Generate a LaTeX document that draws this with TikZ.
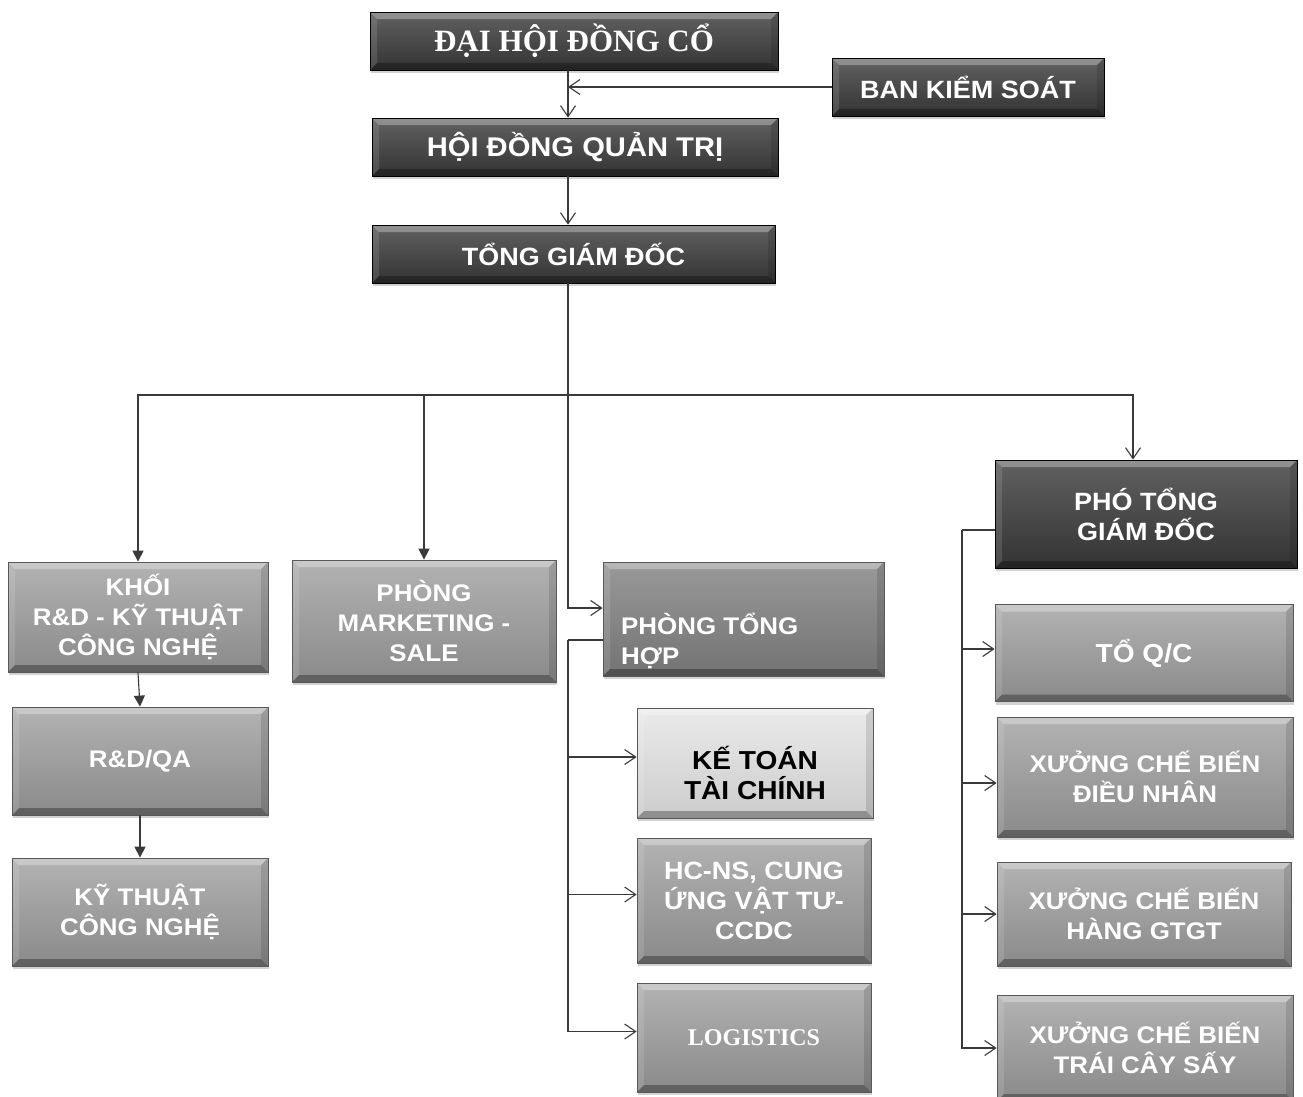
\documentclass[tikz,border=0pt]{standalone}
\usepackage{fontspec}
\setmainfont{Liberation Sans}[FakeStretch=1.08]
\newfontfamily\serifb{Liberation Serif}
\usetikzlibrary{arrows.meta,shadows,calc}
\definecolor{lnc}{HTML}{3A3A3A}
\tikzset{
  bevel/.style={path picture={
    \fill[white,opacity=.30] (path picture bounding box.north west) -- (path picture bounding box.north east)
      -- ([shift={(-7pt,-7pt)}]path picture bounding box.north east) -- ([shift={(7pt,-7pt)}]path picture bounding box.north west) -- cycle;
    \fill[white,opacity=.12] (path picture bounding box.north west) -- ([shift={(7pt,-7pt)}]path picture bounding box.north west)
      -- ([shift={(7pt,7pt)}]path picture bounding box.south west) -- (path picture bounding box.south west) -- cycle;
    \fill[black,opacity=.12] (path picture bounding box.north east) -- ([shift={(-7pt,-7pt)}]path picture bounding box.north east)
      -- ([shift={(-7pt,7pt)}]path picture bounding box.south east) -- (path picture bounding box.south east) -- cycle;
    \fill[black,opacity=.30] (path picture bounding box.south west) -- (path picture bounding box.south east)
      -- ([shift={(-7pt,7pt)}]path picture bounding box.south east) -- ([shift={(7pt,7pt)}]path picture bounding box.south west) -- cycle;
  }},
  box/.style={rectangle, draw=#1!70!black, line width=0.8pt, inner sep=0pt, align=center, text=white,
    font=\bfseries\fontsize{24}{30}\selectfont, bevel,
    drop shadow={shadow xshift=1pt, shadow yshift=-3pt, opacity=.35}},
  wh/.style 2 args={minimum width=#1pt, minimum height=#2pt},
  darkbox/.style={box=black, top color=black!62, bottom color=black!80},
  midbox/.style={box=gray, top color=black!30, bottom color=black!46},
  midbox2/.style={box=gray, top color=black!40, bottom color=black!55},
  lightbox/.style={box=gray, top color=black!8, bottom color=black!20, text=black},
  boxtext/.style={inner sep=0pt, text=white, font=\bfseries\fontsize{24}{30}\selectfont},
  conn/.style={draw=lnc, line width=1.1pt},
  openarr/.style={conn, -{Straight Barb[length=11pt,width=15pt,line width=1.1pt]}},
  triarr/.style={conn, -{Triangle[length=11pt,width=11pt]}},
}
\begin{document}
\begin{tikzpicture}[x=1pt,y=-1pt]
\useasboundingbox[fill=white] (0,0) rectangle (1303,1096);

% top chain
\node[darkbox, wh={408}{58}, font=\serifb\bfseries\fontsize{31}{36}\selectfont] (dh) at (574,41) {ĐẠI HỘI ĐỒNG CỔ};
\node[darkbox, wh={272}{58}, font=\bfseries\fontsize{25}{30}\selectfont] (bks) at (968,87) {BAN KIỂM SOÁT};
\node[darkbox, wh={406}{58}, font=\bfseries\fontsize{27}{30}\selectfont] (hd) at (575,147) {HỘI ĐỒNG QUẢN TRỊ};
\node[darkbox, wh={403}{58}, font=\bfseries\fontsize{25}{30}\selectfont] (tg) at (573.5,254) {TỔNG GIÁM ĐỐC};

% left column
\node[midbox, wh={260}{110}] (khoi) at (138,617) {KHỐI\\R\&D - KỸ THUẬT\\CÔNG NGHỆ};
\node[midbox, wh={256}{108}] (rdqa) at (140,761) {R\&D/QA};
\node[midbox, wh={256}{108}] (ktcn) at (140,912) {KỸ THUẬT\\CÔNG NGHỆ};

% marketing
\node[midbox, wh={264}{122}] (mk) at (424,621) {PHÒNG\\MARKETING -\\SALE};

% phong tong hop
\node[midbox2, wh={281}{114}] (pth) at (743.5,619) {};
\node[boxtext, anchor=west, align=left] (pthtext) at (621,641) {PHÒNG TỔNG\\HỢP};
\node[lightbox, wh={236}{110}] (kt) at (755,763) {};
\node[boxtext, align=center, text=black, font=\bfseries\fontsize{26}{30}\selectfont] (kttext) at (755,773) {KẾ TOÁN\\TÀI CHÍNH};
\node[midbox, wh={234}{125}, font=\bfseries\fontsize{25}{30}\selectfont] (hc) at (754,900.5) {HC-NS, CUNG\\ỨNG VẬT TƯ-\\CCDC};
\node[midbox, wh={234}{109}, font=\serifb\bfseries\fontsize{24}{30}\selectfont] (lg) at (754,1037.5) {LOGISTICS};

% pho tong giam doc
\node[darkbox, wh={302}{108}, font=\bfseries\fontsize{25}{30}\selectfont] (pho) at (1146,514) {PHÓ TỔNG\\GIÁM ĐỐC};
\node[midbox, wh={298}{97}, font=\bfseries\fontsize{26}{30}\selectfont] (qc) at (1144,653) {TỔ Q/C};
\node[midbox, wh={296}{120}] (dn) at (1145,777) {XƯỞNG CHẾ BIẾN\\ĐIỀU NHÂN};
\node[midbox, wh={294}{104}] (gt) at (1144,914) {XƯỞNG CHẾ BIẾN\\HÀNG GTGT};
\node[midbox, wh={296}{106}] (tc) at (1145,1048) {XƯỞNG CHẾ BIẾN\\TRÁI CÂY SẤY};

% helper coordinates
\coordinate (spine) at (568,395);
\coordinate (pthbus) at (568,640);
\coordinate (phobus) at (962,530);

% top connectors
\draw[openarr] (dh.south -| spine) -- (hd.north -| spine);
\draw[openarr] (bks.west) -- (bks.west -| spine);
\draw[openarr] (hd.south -| spine) -- (tg.north -| spine);

% from TGD
\draw[conn] (tg.south -| spine) -- (spine);
\draw[openarr] (spine) |- ([yshift=11pt]pth.west);
\draw[triarr] (spine) -| (khoi.north);
\draw[triarr] (spine -| mk.north) -- (mk.north);
\draw[openarr] (spine) -| ([xshift=-13pt]pho.north);

% left column chain
\draw[triarr] (khoi.south) -- (rdqa.north);
\draw[triarr] (rdqa.south) -- (ktcn.north);

% phong tong hop bus
\draw[conn] (pth.west |- pthbus) -- (pthbus);
\draw[openarr] (pthbus) |- ([yshift=6pt]kt.west);
\draw[openarr] (pthbus) |- ([yshift=6pt]hc.west);
\draw[openarr] (pthbus) |- ([yshift=6pt]lg.west);

% pho tong giam doc bus
\draw[conn] (pho.west |- phobus) -- (phobus);
\draw[openarr] (phobus) |- ([yshift=4pt]qc.west);
\draw[openarr] (phobus) |- ([yshift=-6pt]dn.west);
\draw[openarr] (phobus) |- (gt.west);
\draw[openarr] (phobus) |- (tc.west);
\end{tikzpicture}
\end{document}
